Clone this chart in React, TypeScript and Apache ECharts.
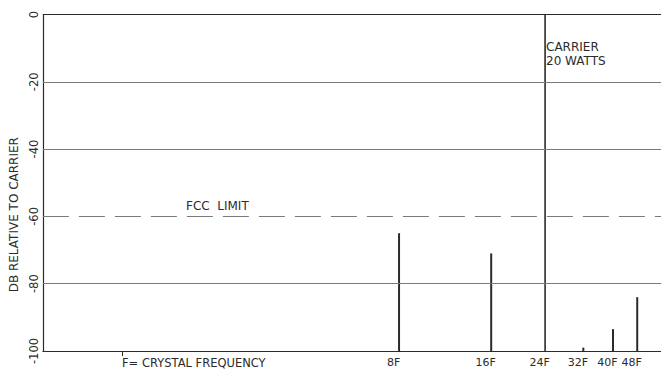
import React, { useEffect, useRef } from "react";
import * as echarts from "echarts";

// Harmonics of the crystal frequency F and their level in dB relative to carrier
const harmonics = [8, 16, 24, 32, 40, 48];
const harmonicLabels = ["8F", "16F", "24F", "32F", "40F", "48F"];
const levelsDb = [-65, -71, 0, -99, -93.5, -84];

const yTicks = [0, -20, -40, -60, -80, -100];
const gridLevels = [0, -20, -40, -80];
const fccLimitDb = -60;

const xAxisTickValues = [1, ...harmonics];
const xAxisTickLabels = ["", ...harmonicLabels];

const INK = "#2b2b2b";
const GRID = "#7a7a7a";
const FONT = "DejaVu Sans";

export default function App() {
  const ref = useRef<HTMLDivElement>(null);

  useEffect(() => {
    if (!ref.current) return;
    const chart = echarts.init(ref.current, undefined, { renderer: "svg" });

    const stemData = harmonics.map((h, i) => [h, levelsDb[i]]);

    const option: any = {
      animation: false,
      backgroundColor: "#ffffff",
      grid: { left: 38, right: 0, top: 14.5, bottom: 19 },
      xAxis: {
        type: "log",
        logBase: 10,
        position: "bottom",
        min: 0.549,
        max: 57.4,
        axisLine: { show: true, onZero: false, lineStyle: { color: INK, width: 1.2 } },
        axisTick: {
          show: true,
          customValues: [1],
          length: 5,
          lineStyle: { color: INK, width: 1 },
        },
        minorTick: { show: false },
        splitLine: { show: false },
        minorSplitLine: { show: false },
        axisLabel: {
          show: true,
          customValues: xAxisTickValues,
          color: INK,
          fontFamily: FONT,
          fontSize: 11,
          margin: 6,
          padding: [0, 11, 0, 0],
          formatter: (v: number) => {
            const idx = xAxisTickValues.findIndex((t) => Math.abs(t - v) < 1e-6);
            return idx >= 0 ? xAxisTickLabels[idx] : "";
          },
        },
      },
      yAxis: {
        type: "value",
        min: -100,
        max: 0,
        interval: 20,
        name: "DB RELATIVE TO CARRIER",
        nameLocation: "middle",
        nameGap: 20,
        nameRotate: 90,
        nameTextStyle: {
          color: INK,
          fontFamily: FONT,
          fontSize: 12,
          padding: [0, 64, 0, 0],
        },
        axisLine: { show: true, lineStyle: { color: INK, width: 1.2 } },
        axisTick: { show: false },
        splitLine: { show: false },
        axisLabel: {
          rotate: 90,
          margin: 3,
          color: INK,
          fontFamily: FONT,
          fontSize: 11.5,
          customValues: yTicks,
          formatter: (v: number) => (v === 0 ? "0" : "-" + Math.abs(v)),
        },
      },
      series: [
        {
          type: "custom",
          name: "harmonics",
          data: stemData,
          renderItem: (params: any, api: any) => {
            const x = api.value(0);
            const y = api.value(1);
            const top = api.coord([x, y]);
            const base = api.coord([x, -100]);
            const isCarrier = y === 0;
            return {
              type: "line",
              shape: { x1: top[0], y1: top[1], x2: base[0], y2: base[1] },
              style: { stroke: INK, lineWidth: isCarrier ? 1.6 : 2 },
            };
          },
          markLine: {
            silent: true,
            symbol: ["none", "none"],
            label: { show: false },
            data: [
              ...gridLevels.map((v) => ({
                yAxis: v,
                lineStyle: { color: v === 0 ? INK : GRID, width: v === 0 ? 1.2 : 1, type: "solid" },
              })),
              {
                yAxis: fccLimitDb,
                lineStyle: { color: GRID, width: 1.2, type: [26, 10] },
              },
            ],
          },
          z: 3,
        },
      ],
      graphic: [
        {
          type: "text",
          left: 122,
          top: 357,
          style: { text: "F= CRYSTAL FREQUENCY", fill: INK, font: `11.5px "${FONT}"` },
        },
        {
          type: "text",
          left: 186,
          top: 200,
          style: { text: "FCC  LIMIT", fill: INK, font: `12px "${FONT}"` },
        },
        {
          type: "text",
          left: 546,
          top: 40,
          style: {
            text: "CARRIER\n20 WATTS",
            fill: INK,
            font: `12px "${FONT}"`,
            lineHeight: 14,
          },
        },
      ],
    };

    chart.setOption(option);
    return () => chart.dispose();
  }, []);

  return <div ref={ref} style={{ width: 661, height: 370, position: "absolute", left: 0, top: 0 }} />;
}
